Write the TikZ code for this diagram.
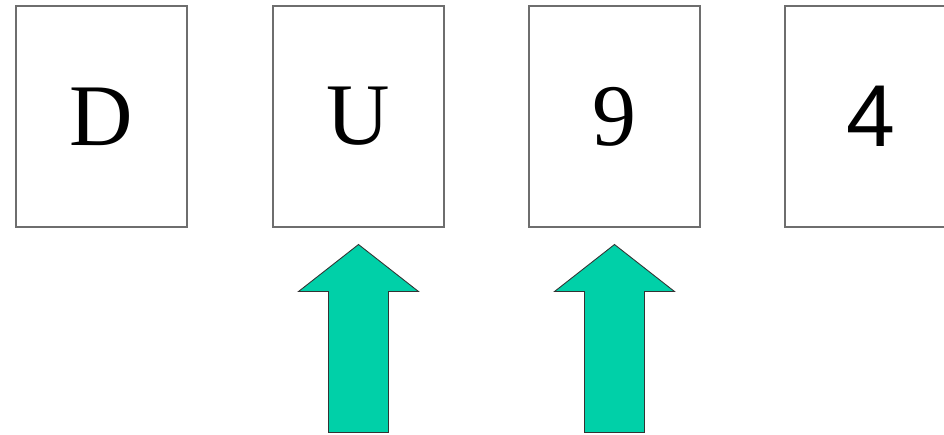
\documentclass[tikz,border=0pt]{standalone}
\usepackage{fontspec}
\setmainfont{Liberation Serif}
\newfontfamily\sansletra{Liberation Sans}
\usetikzlibrary{positioning}
\definecolor{verdeflecha}{RGB}{0,208,168}
\definecolor{bordecarta}{RGB}{110,110,110}

\begin{document}
\begin{tikzpicture}[x=0.02cm, y=0.02cm,
    carta/.style={draw=bordecarta, line width=0.6pt, minimum width=3.42cm,
                  minimum height=4.42cm, inner sep=0pt, font=\fontsize{50}{60}\selectfont},
    flecha/.style={draw=black!80, line width=0.5pt, fill=verdeflecha, line join=miter}
]
\useasboundingbox (0,0) rectangle (944,434);

% ============================================================
% cards
% ============================================================
\foreach \i/\w/\x in {0/D/101.5,1/U/358.5,2/9/614.5} {
    \node[carta] (c\i) at (\x, 317.5) {\w};
}
\node[carta, font=\fontsize{50}{60}\sansletra] (c3) at (870.5, 317.5) {4};

% ============================================================
% block arrows under the second and third card
% ============================================================
\foreach \i in {1,2} {
    \coordinate (t\i) at ([yshift=-0.34cm]c\i.south);
    \draw[flecha] (t\i) -- ++(60,-47) -- ++(-30,0) -- ++(0,-141) -- ++(-60,0)
                  -- ++(0,141) -- ++(-30,0) -- cycle;
}

\end{tikzpicture}
\end{document}
